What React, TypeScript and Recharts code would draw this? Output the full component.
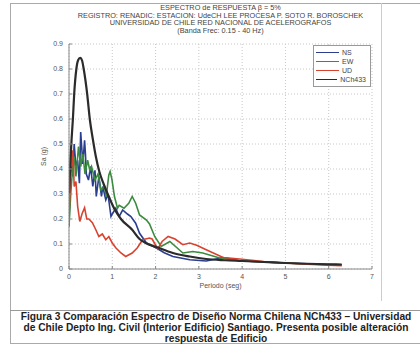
import React from 'react';
import { LineChart, Line, XAxis, YAxis, CartesianGrid, Legend, Label } from 'recharts';

// periodo (seg), Sa (g)
const NS: [number, number][] = [
    [0, 0.17], [0.04, 0.46], [0.08, 0.37], [0.12, 0.5], [0.16, 0.41], [0.2, 0.435], [0.24, 0.343],
    [0.27, 0.548], [0.32, 0.42], [0.36, 0.515], [0.38, 0.46], [0.4, 0.38], [0.45, 0.356], [0.5, 0.41],
    [0.55, 0.33], [0.6, 0.395], [0.63, 0.29], [0.69, 0.37], [0.75, 0.29], [0.78, 0.33], [0.85, 0.276],
    [0.9, 0.3], [0.97, 0.21], [1.0, 0.22], [1.08, 0.243], [1.16, 0.21], [1.24, 0.236], [1.35, 0.22],
    [1.43, 0.21], [1.54, 0.183], [1.63, 0.143], [1.79, 0.104], [2.02, 0.084], [2.2, 0.065], [2.4, 0.05],
    [2.79, 0.037], [3.17, 0.032], [3.4, 0.04], [3.56, 0.046], [3.75, 0.04], [3.94, 0.033], [4.5, 0.028],
    [5, 0.024], [5.5, 0.021], [6, 0.018], [6.3, 0.017],
];

const EW: [number, number][] = [
    [0, 0.17], [0.04, 0.3], [0.08, 0.395], [0.12, 0.45], [0.16, 0.37], [0.22, 0.49], [0.27, 0.41],
    [0.32, 0.46], [0.37, 0.38], [0.43, 0.435], [0.48, 0.395], [0.52, 0.41], [0.6, 0.356], [0.67, 0.38],
    [0.74, 0.316], [0.82, 0.33], [0.86, 0.29], [0.92, 0.376], [0.95, 0.39], [0.99, 0.36], [1.05, 0.29],
    [1.12, 0.243], [1.16, 0.255], [1.27, 0.243], [1.38, 0.263], [1.46, 0.29], [1.54, 0.263], [1.63, 0.216],
    [1.79, 0.196], [1.86, 0.18], [1.98, 0.13], [2.13, 0.09], [2.33, 0.11], [2.63, 0.064], [2.86, 0.07],
    [3.09, 0.064], [3.48, 0.044], [3.94, 0.033], [4.5, 0.028], [5, 0.024], [5.5, 0.02], [6, 0.017],
    [6.3, 0.016],
];

const UD: [number, number][] = [
    [0, 0.22], [0.02, 0.3], [0.04, 0.49], [0.07, 0.41], [0.09, 0.475], [0.12, 0.33], [0.16, 0.35],
    [0.2, 0.25], [0.25, 0.19], [0.3, 0.22], [0.36, 0.245], [0.41, 0.2], [0.46, 0.2], [0.54, 0.185],
    [0.62, 0.157], [0.69, 0.13], [0.77, 0.14], [0.85, 0.117], [0.92, 0.13], [1.0, 0.104], [1.08, 0.085],
    [1.2, 0.064], [1.31, 0.05], [1.46, 0.064], [1.58, 0.085], [1.7, 0.117], [1.86, 0.124], [1.92, 0.12],
    [2.05, 0.08], [2.15, 0.11], [2.29, 0.13], [2.45, 0.12], [2.63, 0.097], [2.79, 0.104], [2.95, 0.095],
    [3.17, 0.077], [3.56, 0.046], [3.94, 0.04], [4.5, 0.03], [5, 0.024], [5.5, 0.019], [6, 0.015],
    [6.3, 0.013],
];

const NCH433: [number, number][] = [
    [0, 0.3], [0.03, 0.42], [0.06, 0.52], [0.09, 0.6], [0.12, 0.7], [0.17, 0.8], [0.21, 0.835],
    [0.26, 0.845], [0.3, 0.835], [0.34, 0.8], [0.42, 0.7], [0.48, 0.6], [0.55, 0.52], [0.62, 0.45],
    [0.7, 0.39], [0.8, 0.34], [0.92, 0.29], [1.05, 0.24], [1.2, 0.2], [1.46, 0.157], [1.63, 0.12],
    [1.77, 0.104], [2.02, 0.088], [2.4, 0.064], [2.79, 0.05], [3.17, 0.04], [3.6, 0.035], [4, 0.032],
    [4.5, 0.028], [5, 0.024], [5.5, 0.021], [6, 0.019], [6.3, 0.018],
];

const PERIOD_TICKS = [0, 1, 2, 3, 4, 5, 6, 7];
const SA_TICKS = [0, 0.1, 0.2, 0.3, 0.4, 0.5, 0.6, 0.7, 0.8, 0.9];

const TITLE_LINES = [
    'ESPECTRO de RESPUESTA β = 5%',
    'REGISTRO: RENADIC: ESTACION: UdeCH LEE PROCESA P. SOTO R. BOROSCHEK',
    'UNIVERSIDAD DE CHILE RED NACIONAL DE ACELEROGRAFOS',
    '(Banda Frec: 0.15 - 40 Hz)',
];

const CAPTION_LINES = [
    'Figura 3 Comparación Espectro de Diseño Norma Chilena NCh433 – Universidad',
    'de Chile Depto Ing. Civil (Interior Edificio) Santiago. Presenta posible alteración',
    'respuesta de Edificio',
];

const SERIES = [
    { name: 'NS', points: NS, color: '#2a3d8f', width: 1.6 },
    { name: 'EW', points: EW, color: '#3b8a3e', width: 1.6 },
    { name: 'UD', points: UD, color: '#d8432f', width: 1.6 },
    { name: 'NCh433', points: NCH433, color: '#2b2b2b', width: 2.2 },
];

const toRows = (pts: [number, number][]) => pts.map(([t, sa]) => ({ t, sa }));

const FONT = '"Liberation Sans", Arial, sans-serif';
const tickStyle = { fontSize: 7, fill: '#555', fontFamily: FONT };

// legend keeps the series order (NS, EW, UD, NCh433)
const LegendBox = () => (
    <div style={{
        border: '1px solid #999', background: '#fff', padding: '2px 4px 2px 2px',
        fontFamily: FONT, fontSize: 7, color: '#444', lineHeight: '9px', width: 50,
    }}>
        {SERIES.map((s) => (
            <div key={s.name} style={{ display: 'flex', alignItems: 'center' }}>
                <span style={{ display: 'inline-block', width: 23, height: 1.5, background: s.color, marginRight: 3 }} />
                {s.name}
            </div>
        ))}
    </div>
);

export default function App() {
    return (
        <div style={{ position: 'absolute', left: 0, top: 0, width: 420, height: 346, background: '#fff', overflow: 'hidden' }}>
            {/* scanned page frame */}
            <div style={{ position: 'absolute', left: 10, top: 3, width: 430, height: 339, border: '1px solid #aaa' }} />
            <div style={{ position: 'absolute', left: 381, top: 3, width: 1, height: 298, background: '#ccc' }} />
            <div style={{ position: 'absolute', left: 10, top: 310, width: 420, height: 1, background: '#999' }} />

            <div style={{ position: 'absolute', left: 0, top: 4, width: 441, textAlign: 'center', fontFamily: FONT, fontSize: 7.3, lineHeight: '7.5px', color: '#444' }}>
                {TITLE_LINES.map((l) => <div key={l}>{l}</div>)}
            </div>

            <div style={{ position: 'absolute', left: 0, top: 0 }}>
                <LineChart width={420} height={346} margin={{ top: 44, right: 48, bottom: 0, left: 0 }}>
                    <CartesianGrid stroke="#c8c8c8" strokeDasharray="1 2" />
                    <XAxis
                        type="number" dataKey="t" domain={[0, 7]} ticks={PERIOD_TICKS} height={77}
                        allowDataOverflow axisLine={{ stroke: '#888' }} tickLine={{ stroke: '#888' }}
                        tickSize={-3} tickMargin={8} tick={tickStyle}
                    >
                        <Label value="Periodo (seg)" position="insideTop" offset={14} style={{ fontSize: 7, fill: '#555', fontFamily: FONT }} />
                    </XAxis>
                    <XAxis
                        xAxisId="top" orientation="top" type="number" domain={[0, 7]} ticks={PERIOD_TICKS} height={0}
                        axisLine={{ stroke: '#888' }} tickLine={{ stroke: '#888' }} tickSize={-3} tick={false}
                    />
                    <YAxis
                        type="number" domain={[0, 0.9]} ticks={SA_TICKS} width={69} allowDataOverflow
                        axisLine={{ stroke: '#888' }} tickLine={{ stroke: '#888' }} tickSize={-3} tickMargin={9}
                        tick={tickStyle}
                    >
                        <Label value="Sa (g)" angle={-90} position="insideLeft" offset={44} style={{ fontSize: 7, fill: '#555', fontFamily: FONT, textAnchor: 'middle' }} />
                    </YAxis>
                    <YAxis
                        yAxisId="right" orientation="right" type="number" domain={[0, 0.9]} ticks={SA_TICKS} width={0}
                        axisLine={{ stroke: '#888' }} tickLine={{ stroke: '#888' }} tickSize={-3} tick={false}
                    />
                    {SERIES.map((s) => (
                        <Line
                            key={s.name}
                            data={toRows(s.points)}
                            dataKey="sa"
                            name={s.name}
                            type={s.name === 'NCh433' ? 'monotone' : 'linear'}
                            stroke={s.color}
                            strokeWidth={s.width}
                            dot={false}
                            isAnimationActive={false}
                        />
                    ))}
                    <Legend
                        layout="vertical" align="center" verticalAlign="middle"
                        content={<LegendBox />}
                        wrapperStyle={{ position: 'absolute', left: 313, top: 45, width: 'auto' }}
                    />
                </LineChart>
            </div>

            <div style={{ position: 'absolute', left: 0, top: 311, width: 432, textAlign: 'center', fontFamily: FONT, fontSize: 10.2, fontWeight: 'bold', lineHeight: '11px', color: '#222', whiteSpace: 'nowrap' }}>
                {CAPTION_LINES.map((l) => <div key={l}>{l}</div>)}
            </div>
        </div>
    );
}
